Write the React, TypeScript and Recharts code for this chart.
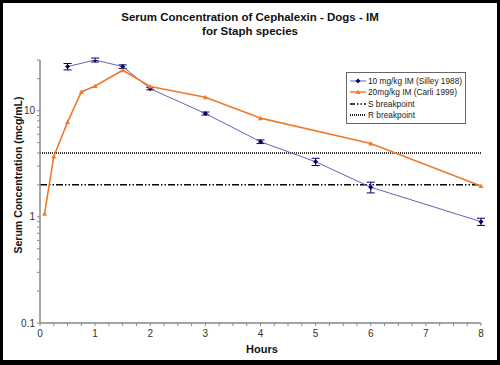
import { ComposedChart, Line, XAxis, YAxis, ReferenceLine, ErrorBar, Legend } from 'recharts';

// 10 mg/kg IM (Silley 1988)
const silleyHours = [0.5, 1, 1.5, 2, 3, 4, 5, 6, 8];
const silleyConc = [26, 30, 26, 16.1, 9.4, 5.1, 3.3, 1.9, 0.9];
const silleyErr = [1.8, 1.3, 1.0, 0.4, 0.3, 0.2, 0.26, 0.22, 0.07];

// 20mg/kg IM (Carli 1999)
const carliHours = [0.083, 0.25, 0.5, 0.75, 1, 1.5, 2, 3, 4, 6, 8];
const carliConc = [1.07, 3.7, 7.8, 15, 17.1, 24, 16.9, 13.4, 8.5, 4.9, 1.95];

const sBreakpoint = 2;
const rBreakpoint = 4;

const xTicks = [0, 0.25, 0.5, 0.75, 1, 1.25, 1.5, 1.75, 2, 2.25, 2.5, 2.75, 3, 3.25, 3.5, 3.75, 4,
  4.25, 4.5, 4.75, 5, 5.25, 5.5, 5.75, 6, 6.25, 6.5, 6.75, 7, 7.25, 7.5, 7.75, 8];
const yTicks = [0.1, 0.2, 0.3, 0.4, 0.5, 0.6, 0.7, 0.8, 0.9, 1, 2, 3, 4, 5, 6, 7, 8, 9, 10, 20, 30];
const yLabels = [0.1, 1, 10];

const silleyData = silleyHours.map((h, i) => ({ h, c: silleyConc[i], err: silleyErr[i] }));
const carliData = carliHours.map((h, i) => ({ h, c: carliConc[i] }));

const BLUE_LINE = '#6464b8';
const NAVY = '#000070';
const ORANGE = '#f07a2c';
const FONT = '"Liberation Sans", Arial, sans-serif';

const XTick = (props: any) => {
  const { x, y, payload } = props;
  if (!Number.isInteger(payload.value)) return <g />;
  return (
    <text x={x} y={y} dy="0.71em" textAnchor="middle" fontSize={10} fill="#333" fontFamily={FONT}>
      {payload.value}
    </text>
  );
};

const YTick = (props: any) => {
  const { x, y, payload } = props;
  if (!yLabels.includes(payload.value)) return <g />;
  return (
    <text x={x} y={y} dy="0.355em" textAnchor="end" fontSize={10} fill="#333" fontFamily={FONT}>
      {payload.value}
    </text>
  );
};

const Diamond = (props: any) => {
  const { cx, cy } = props;
  if (cx == null || cy == null) return <g />;
  return <path d={`M${cx},${cy - 2.5}L${cx + 2.5},${cy}L${cx},${cy + 2.5}L${cx - 2.5},${cy}Z`} fill={NAVY} />;
};

const Triangle = (props: any) => {
  const { cx, cy } = props;
  if (cx == null || cy == null) return <g />;
  return <path d={`M${cx},${cy - 2.5}L${cx + 2.5},${cy + 2}L${cx - 2.5},${cy + 2}Z`} fill={ORANGE} />;
};

const legendRows = [
  { label: '10 mg/kg IM (Silley 1988)', stroke: BLUE_LINE, dash: undefined, width: 1, marker: 'diamond' },
  { label: '20mg/kg IM (Carli 1999)', stroke: ORANGE, dash: undefined, width: 1.5, marker: 'triangle' },
  { label: 'S breakpoint', stroke: '#000', dash: '5 2 1.5 2 1.5 2', width: 1.5, marker: '' },
  { label: 'R breakpoint', stroke: '#222', dash: '1 1', width: 2, marker: '' },
];

const LegendBox = () => (
  <div style={{ border: '1px solid #666', background: '#fff', padding: '2px 3px', fontFamily: FONT, fontSize: 8.3, color: '#222', whiteSpace: 'nowrap', boxSizing: 'border-box', width: 120 }}>
    {legendRows.map((r) => (
      <div key={r.label} style={{ display: 'flex', alignItems: 'center', height: 11.5 }}>
        <svg width={16} height={8} style={{ marginRight: 2, flex: 'none' }}>
          <line x1={0} y1={4} x2={16} y2={4} stroke={r.stroke} strokeWidth={r.width} strokeDasharray={r.dash} />
          {r.marker === 'diamond' && <path d="M8,1.5L10.5,4L8,6.5L5.5,4Z" fill={NAVY} />}
          {r.marker === 'triangle' && <path d="M8,1.5L10.5,6L5.5,6Z" fill={ORANGE} />}
        </svg>
        <span>{r.label}</span>
      </div>
    ))}
  </div>
);

export default function App() {
  return (
    <div style={{ position: 'absolute', left: 0, top: 0, width: 500, height: 365, background: '#fff', fontFamily: FONT }}>
      <div style={{ position: 'absolute', left: 0, top: 10, width: 500, textAlign: 'center', fontWeight: 'bold', fontSize: 11.5, lineHeight: '14px', color: '#111' }}>
        Serum Concentration of Cephalexin - Dogs - IM
        <br />
        for Staph species
      </div>
      <div style={{ position: 'absolute', left: 0, top: 343, width: 524, textAlign: 'center', fontWeight: 'bold', fontSize: 11, color: '#111' }}>
        Hours
      </div>
      <div style={{ position: 'absolute', left: 18, top: 175, width: 0, height: 0 }}>
        <div style={{ position: 'absolute', transform: 'translate(-50%, -50%) rotate(-90deg)', whiteSpace: 'nowrap', fontWeight: 'bold', fontSize: 10.5, color: '#111' }}>
          Serum Concentration (mcg/mL)
        </div>
      </div>
      <ComposedChart width={500} height={365} margin={{ top: 60, right: 19, bottom: 12, left: 0 }}>
        <XAxis
          dataKey="h"
          type="number"
          domain={[0, 8]}
          ticks={xTicks}
          interval={0}
          allowDuplicatedCategory={false}
          height={30}
          tickSize={3}
          tickMargin={4}
          tick={<XTick />}
          axisLine={{ stroke: '#888', strokeWidth: 1.5 }}
          tickLine={{ stroke: '#888' }}
        />
        <YAxis
          type="number"
          scale="log"
          domain={[0.1, 30]}
          ticks={yTicks}
          interval={0}
          allowDataOverflow
          width={40}
          tickSize={3}
          tickMargin={2}
          tick={<YTick />}
          axisLine={{ stroke: '#888', strokeWidth: 1.5 }}
          tickLine={{ stroke: '#888' }}
        />
        <ReferenceLine y={rBreakpoint} stroke="#333" strokeWidth={2} strokeDasharray="1 1" />
        <ReferenceLine y={sBreakpoint} stroke="#000" strokeWidth={1.5} strokeDasharray="7 2 1.5 2 1.5 2" />
        <Line
          data={silleyData}
          dataKey="c"
          name="10 mg/kg IM (Silley 1988)"
          stroke={BLUE_LINE}
          strokeWidth={1}
          dot={<Diamond />}
          isAnimationActive={false}
        >
          <ErrorBar dataKey="err" direction="y" width={4} stroke={NAVY} strokeWidth={1} isAnimationActive={false} />
        </Line>
        <Line
          data={carliData}
          dataKey="c"
          name="20mg/kg IM (Carli 1999)"
          stroke={ORANGE}
          strokeWidth={1.6}
          dot={<Triangle />}
          isAnimationActive={false}
        />
        <Legend
          layout="horizontal"
          verticalAlign="middle"
          align="center"
          content={() => <LegendBox />}
          wrapperStyle={{ left: 346, top: 72, width: 120 }}
        />
      </ComposedChart>
      <div style={{ position: 'absolute', inset: 0, borderStyle: 'solid', borderColor: '#000', borderWidth: '3px 3px 5px 3px', pointerEvents: 'none' }} />
    </div>
  );
}
